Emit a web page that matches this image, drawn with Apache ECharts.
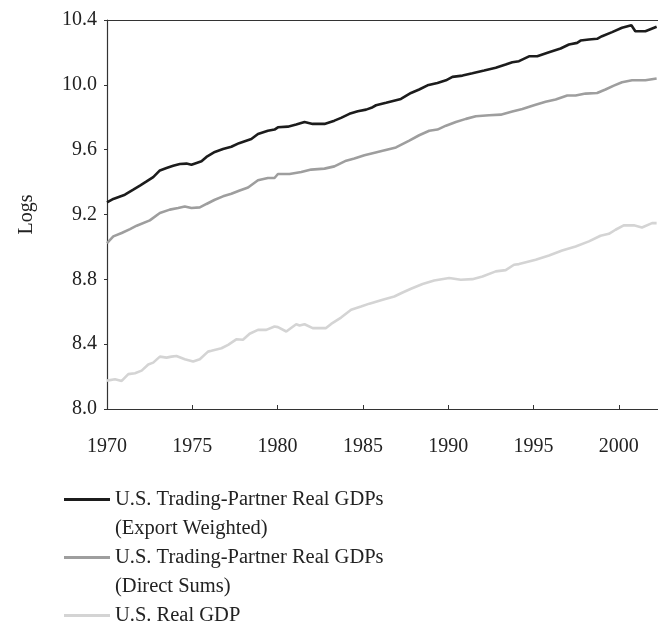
<!DOCTYPE html>
<html>
<head>
<meta charset="utf-8">
<script src="https://cdn.jsdelivr.net/npm/echarts@6/dist/echarts.min.js"></script>
<style>
  html, body { margin: 0; padding: 0; background: #fff; }
  #chart { width: 658px; height: 622px; }
</style>
</head>
<body>
<div id="chart"></div>
<script>
// series names (legend labels)
const nameExport = 'U.S. Trading-Partner Real GDPs\n(Export Weighted)'
const nameDirect = 'U.S. Trading-Partner Real GDPs\n(Direct Sums)'
const nameUs = 'U.S. Real GDP'

// Export weighted partner GDP (logs)
const exportYears = [1970.0, 1970.37, 1971.05, 1971.54, 1971.93, 1972.32, 1972.71, 1973.1, 1973.49, 1973.88,
  1974.27, 1974.66, 1974.95, 1975.25, 1975.54, 1975.83, 1976.32, 1976.8, 1977.29, 1977.74,
  1978.46, 1978.85, 1979.43, 1979.82, 1980.02, 1980.6, 1981.09, 1981.58, 1982.06, 1982.75,
  1983.33, 1983.72, 1984.21, 1984.7, 1985.19, 1985.5, 1985.77, 1986.36, 1987.23, 1987.82,
  1988.3, 1988.79, 1989.37, 1989.87, 1990.25, 1990.84, 1991.42, 1992.11, 1992.79, 1993.37,
  1993.76, 1994.15, 1994.74, 1995.22, 1995.91, 1996.59, 1997.08, 1997.56, 1997.76, 1998.25,
  1998.73, 1999.02, 1999.61, 2000.19, 2000.74, 2000.97, 2001.56, 2002.22]
const exportValues = [9.275, 9.296, 9.322, 9.353, 9.378, 9.404, 9.431, 9.472, 9.487, 9.501,
  9.512, 9.514, 9.507, 9.518, 9.528, 9.555, 9.586, 9.604, 9.618, 9.640,
  9.666, 9.697, 9.717, 9.724, 9.738, 9.742, 9.755, 9.771, 9.759, 9.759,
  9.779, 9.796, 9.821, 9.837, 9.847, 9.858, 9.874, 9.889, 9.913, 9.950,
  9.971, 9.997, 10.012, 10.028, 10.049, 10.057, 10.071, 10.088, 10.105, 10.125,
  10.139, 10.146, 10.176, 10.176, 10.201, 10.224, 10.249, 10.259, 10.273, 10.280,
  10.284, 10.300, 10.325, 10.352, 10.368, 10.331, 10.331, 10.358]

// Direct sums partner GDP (logs)
const directYears = [1970.0, 1970.37, 1970.86, 1971.35, 1971.74, 1972.51, 1973.1, 1973.68, 1974.17, 1974.56,
  1974.95, 1975.44, 1975.83, 1976.32, 1976.8, 1977.29, 1977.74, 1978.27, 1978.85, 1979.43,
  1979.82, 1980.02, 1980.7, 1981.39, 1981.97, 1982.75, 1983.33, 1984.02, 1984.5, 1985.09,
  1985.63, 1986.16, 1986.94, 1987.72, 1988.3, 1988.89, 1989.37, 1989.87, 1990.45, 1991.04,
  1991.62, 1992.4, 1993.08, 1993.76, 1994.35, 1995.03, 1995.71, 1996.3, 1996.98, 1997.47,
  1998.05, 1998.73, 1999.22, 1999.71, 2000.19, 2000.78, 2001.56, 2002.22]
const directValues = [9.024, 9.065, 9.086, 9.110, 9.131, 9.164, 9.209, 9.230, 9.240, 9.250,
  9.240, 9.244, 9.265, 9.291, 9.312, 9.328, 9.347, 9.367, 9.411, 9.425,
  9.425, 9.450, 9.450, 9.462, 9.477, 9.483, 9.497, 9.532, 9.545, 9.565,
  9.580, 9.594, 9.614, 9.656, 9.689, 9.717, 9.724, 9.748, 9.771, 9.790,
  9.806, 9.812, 9.816, 9.835, 9.851, 9.874, 9.895, 9.909, 9.934, 9.934,
  9.946, 9.950, 9.971, 9.995, 10.016, 10.028, 10.028, 10.039]

// U.S. real GDP (logs)
const usYears = [1970.0, 1970.47, 1970.86, 1971.25, 1971.64, 1972.03, 1972.42, 1972.71, 1973.1, 1973.49,
  1973.78, 1974.07, 1974.56, 1975.05, 1975.44, 1975.92, 1976.12, 1976.71, 1977.1, 1977.58,
  1977.97, 1978.36, 1978.85, 1979.34, 1979.82, 1980.02, 1980.51, 1981.09, 1981.29, 1981.58,
  1982.06, 1982.84, 1983.14, 1983.72, 1984.31, 1984.89, 1985.38, 1986.16, 1986.84, 1987.33,
  1987.82, 1988.5, 1989.18, 1990.06, 1990.74, 1991.42, 1992.01, 1992.79, 1993.37, 1993.86,
  1994.15, 1995.13, 1995.91, 1996.68, 1997.47, 1998.25, 1998.93, 1999.42, 1999.81, 2000.29,
  2000.88, 2001.36, 2001.95, 2002.22]
const usValues = [8.175, 8.184, 8.173, 8.215, 8.221, 8.237, 8.275, 8.286, 8.323, 8.317,
  8.323, 8.327, 8.307, 8.293, 8.307, 8.354, 8.359, 8.375, 8.396, 8.430,
  8.427, 8.464, 8.488, 8.488, 8.509, 8.505, 8.478, 8.523, 8.515, 8.523,
  8.499, 8.499, 8.525, 8.564, 8.612, 8.632, 8.650, 8.674, 8.694, 8.719,
  8.742, 8.771, 8.793, 8.808, 8.797, 8.801, 8.818, 8.849, 8.857, 8.890,
  8.894, 8.921, 8.947, 8.978, 9.003, 9.034, 9.069, 9.081, 9.106, 9.133,
  9.133, 9.120, 9.147, 9.147]

const font = '"Liberation Serif", "DejaVu Serif", serif'
const textColor = '#222'
const axisLineColor = '#333'

function pairs(xs, ys) {
  return xs.map((x, i) => [x, ys[i]])
}

// one legend per item so each can be placed on its own line;
// two-line names get an empty line on top so the swatch sits on the first line
function makeLegend(name, top, twoLines) {
  return {
    data: [name],
    left: 64,
    top: top,
    padding: 0,
    orient: 'vertical',
    icon: 'rect',
    itemWidth: 46,
    itemHeight: 3,
    selectedMode: false,
    formatter: (n) => (twoLines ? ' \n' + n : n),
    textStyle: {
      fontFamily: font,
      fontSize: 20.5,
      color: textColor,
      lineHeight: 29,
    },
  }
}

const chart = echarts.init(document.getElementById('chart'), null, { renderer: 'canvas' })

const option = {
  backgroundColor: '#fff',
  animation: false,
  grid: {
    left: 107,
    right: 0,
    top: 20,
    bottom: 213,
  },
  legend: [
    makeLegend(nameExport, 456, true),
    makeLegend(nameDirect, 514, true),
    makeLegend(nameUs, 601, false),
  ],
  xAxis: [
    {
      type: 'value',
      min: 1970,
      max: 2002.3,
      interval: 5,
      axisLine: { show: true, lineStyle: { color: axisLineColor, width: 1.2 } },
      axisTick: { show: true, inside: true, length: 4, lineStyle: { color: axisLineColor } },
      splitLine: { show: false },
      axisLabel: {
        showMaxLabel: false,
        margin: 28,
        fontFamily: font,
        fontSize: 20,
        color: textColor,
        formatter: (v) => String(v),
      },
    },
    {
      // top border of the plot
      type: 'value',
      position: 'top',
      min: 1970,
      max: 2002.3,
      axisLine: { show: true, lineStyle: { color: axisLineColor, width: 1.2 } },
      axisTick: { show: false },
      axisLabel: { show: false },
      splitLine: { show: false },
    },
  ],
  yAxis: {
    type: 'value',
    min: 8.0,
    max: 10.4,
    interval: 0.4,
    name: 'Logs',
    nameLocation: 'middle',
    nameGap: 70,
    nameTextStyle: { fontFamily: font, fontSize: 20, color: textColor },
    axisLine: { show: true, lineStyle: { color: axisLineColor, width: 1.2 } },
    axisTick: { show: true, length: 3, lineStyle: { color: axisLineColor } },
    splitLine: { show: false },
    axisLabel: {
      margin: 10,
      fontFamily: font,
      fontSize: 20,
      color: textColor,
      formatter: (v) => v.toFixed(1),
    },
  },
  series: [
    {
      name: nameExport,
      type: 'line',
      data: pairs(exportYears, exportValues),
      color: '#1c1c1c',
      symbol: 'none',
      lineStyle: { width: 2.6 },
    },
    {
      name: nameDirect,
      type: 'line',
      data: pairs(directYears, directValues),
      color: '#9e9e9e',
      symbol: 'none',
      lineStyle: { width: 2.6 },
    },
    {
      name: nameUs,
      type: 'line',
      data: pairs(usYears, usValues),
      color: '#d4d4d4',
      symbol: 'none',
      lineStyle: { width: 2.6 },
    },
  ],
}

chart.setOption(option)
</script>
</body>
</html>
